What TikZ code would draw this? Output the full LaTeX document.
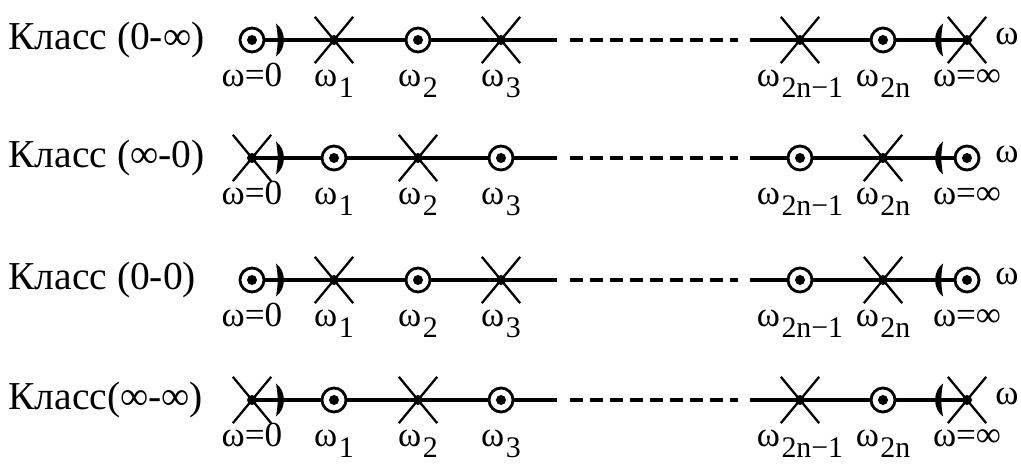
\documentclass[tikz,border=0pt]{standalone}
\usepackage{fontspec}
\setmainfont{Liberation Serif}
\usetikzlibrary{positioning,shapes.misc,backgrounds}
\newcommand{\wsub}[1]{ω\kern0.03cm\raisebox{-0.22cm}{\fontsize{17}{17}\selectfont #1}}

\begin{document}
\begin{tikzpicture}[
  zero/.style={circle,draw,fill=white,line width=1.6pt,minimum size=0.48cm,inner sep=0},
  pole/.style={cross out,draw,line width=1.3pt,minimum width=0.72cm,minimum height=0.88cm,inner sep=0},
  lab/.style={font=\fontsize{20}{22}\selectfont,inner sep=0,text height=0.5cm},
  axis/.style={line width=1.8pt}]
\useasboundingbox (0,0) rectangle (20.42,9.3);
\foreach \r/\yy/\txt/\kA/\kB/\kC/\kD in {1/8.5/{Класс (0-∞)}/zero/pole/pole/zero,
    2/6.14/{Класс (∞-0)}/pole/zero/zero/pole,
    3/3.7/{Класс (0-0)}/zero/pole/zero/pole,
    4/1.3/{Класс(∞-∞)}/pole/zero/pole/zero}{
  \node[font=\fontsize{22.5}{26}\selectfont,anchor=base west,inner sep=0] (k\r) at (0.16,\yy-0.2) {\txt};
  % points on the axis
  \node[\kA] (p\r1) at (5.04,\yy) {};
  \node[\kB] (p\r2) at (6.68,\yy) {};
  \node[\kA] (p\r3) at (8.36,\yy) {};
  \node[\kB] (p\r4) at (10.02,\yy) {};
  \node[\kC] (p\r5) at (16.0,\yy) {};
  \node[\kD] (p\r6) at (17.66,\yy) {};
  \node[\kC] (p\r7) at (19.34,\yy) {};
  \foreach \i in {1,...,7} \fill (p\r\i.center) circle (0.1);
  \coordinate (s\r) at (11.14,\yy);
  \coordinate (da\r) at (11.4,\yy);
  \coordinate (db\r) at (14.76,\yy);
  \coordinate (t\r) at (15.0,\yy);
  \begin{scope}[on background layer]
    \draw[axis] (p\r1.center) -- (s\r);
    \draw[axis,dash pattern=on 0.26cm off 0.14cm] (da\r) -- (db\r);
    \draw[axis] (t\r) -- (p\r7.center);
  \end{scope}
  % brackets
  \fill (5.52,\yy+0.33) to[bend left=55] (5.52,\yy-0.33) to[bend right=10] (5.52,\yy+0.33);
  \fill (18.86,\yy+0.33) to[bend right=55] (18.86,\yy-0.33) to[bend left=10] (18.86,\yy+0.33);
  % labels
  \node[lab,below=0.42cm of p\r1.center] (w\r1) {ω=0};
  \node[lab,below=0.42cm of p\r2.center] (w\r2) {\wsub{1}};
  \node[lab,below=0.42cm of p\r3.center] (w\r3) {\wsub{2}};
  \node[lab,below=0.42cm of p\r4.center] (w\r4) {\wsub{3}};
  \node[lab,below=0.42cm of p\r5.center] (w\r5) {\wsub{2n−1}};
  \node[lab,below=0.42cm of p\r6.center] (w\r6) {\wsub{2n}};
  \node[lab,below=0.42cm of p\r7.center] (w\r7) {ω=∞};
  \node[lab,anchor=base] (e\r) at (20.14,\yy-0.1) {ω};
}
\end{tikzpicture}
\end{document}
